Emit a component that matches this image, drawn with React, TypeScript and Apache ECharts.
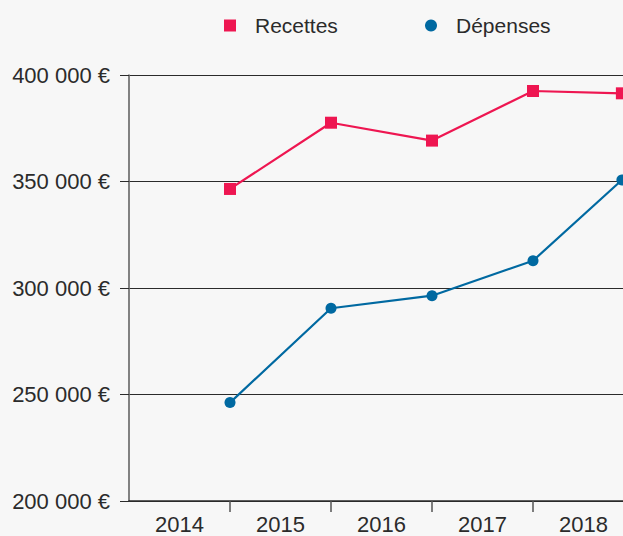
import React, { useEffect, useRef } from "react";
import * as echarts from "echarts";

const years = ["2014", "2015", "2016", "2017", "2018"];
const xPositions = [2014, 2015, 2016, 2017, 2017.88];
const recettes = [346500, 377600, 369200, 392500, 391400];
const depenses = [246200, 290500, 296400, 312800, 350700];
const yTicks = [200000, 250000, 300000, 350000, 400000];

const RED = "#ee1651";
const BLUE = "#0069a1";
const FONT = "Liberation Sans";

function fmtEuro(v: number): string {
  const s = String(Math.round(v));
  return s.replace(/\B(?=(\d{3})+(?!\d))/g, " ") + " €";
}

export default function App() {
  const ref = useRef<HTMLDivElement>(null);
  useEffect(() => {
    if (!ref.current) return;
    const chart = echarts.init(ref.current, undefined, { renderer: "svg" });
    const legendCommon = {
      top: 10,
      itemWidth: 12,
      itemHeight: 12,
      textStyle: { fontFamily: FONT, fontSize: 21, color: "#2b2b2b", padding: [0, 0, 0, 14] },
      selectedMode: false as const,
    };
    chart.setOption({
      animation: false,
      backgroundColor: "#f7f7f7",
      legend: [
        { ...legendCommon, left: 219, data: [{ name: "Recettes", icon: "rect" }] },
        { ...legendCommon, left: 420, data: [{ name: "Dépenses", icon: "circle" }] },
      ],
      grid: { left: 129, right: 0, top: 75, bottom: 35, containLabel: false },
      xAxis: {
        type: "value",
        min: 2013,
        max: 2017.891,
        axisLine: { show: true, lineStyle: { color: "#2b2b2b", width: 1.5 } },
        axisTick: {
          show: true,
          length: 11,
          customValues: [2014, 2015, 2016, 2017],
          lineStyle: { color: "#555", width: 1.5 },
        },
        axisLabel: {
          customValues: years.map((y) => Number(y) - 0.5),
          formatter: (v: number) => String(Math.round(v + 0.5)),
          fontFamily: FONT,
          fontSize: 22,
          color: "#2b2b2b",
          margin: 12,
        },
        splitLine: { show: false },
      },
      yAxis: {
        type: "value",
        min: 200000,
        max: 400000,
        interval: 50000,
        axisLine: { show: true, lineStyle: { color: "#6d6d6d", width: 1.7 } },
        axisTick: { show: true, length: 9, lineStyle: { color: "#2b2b2b", width: 1 } },
        axisLabel: {
          customValues: yTicks,
          formatter: (v: number) => fmtEuro(v),
          fontFamily: FONT,
          fontSize: 22,
          color: "#2b2b2b",
          margin: 19,
        },
        splitLine: { show: true, lineStyle: { color: "#2b2b2b", width: 1.2 } },
      },
      series: [
        {
          name: "Recettes",
          type: "line",
          data: xPositions.map((x, i) => [x, recettes[i]]),
          symbol: "rect",
          symbolSize: 12,
          clip: false,
          itemStyle: { color: RED },
          lineStyle: { color: RED, width: 2.2 },
        },
        {
          name: "Dépenses",
          type: "line",
          data: xPositions.map((x, i) => [x, depenses[i]]),
          symbol: "circle",
          symbolSize: 11,
          clip: false,
          itemStyle: { color: BLUE },
          lineStyle: { color: BLUE, width: 2.2 },
        },
      ],
    });
    return () => chart.dispose();
  }, []);
  return (
    <div
      ref={ref}
      style={{ position: "fixed", left: 0, top: 0, width: 623, height: 536 }}
    />
  );
}
